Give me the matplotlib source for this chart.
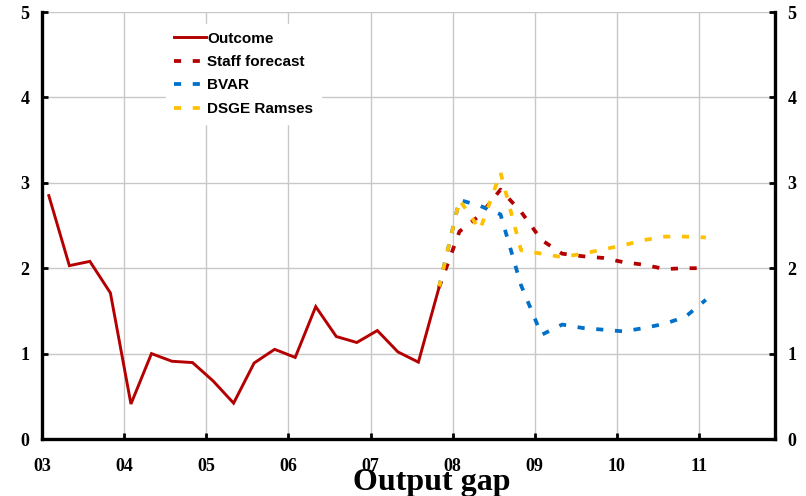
import matplotlib
matplotlib.use("Agg")
import matplotlib.pyplot as plt
import numpy as np

# ---- data ----
outcome_x = [3.083, 3.333, 3.583, 3.833, 4.083, 4.333, 4.583, 4.833, 5.083, 5.333,
             5.583, 5.833, 6.083, 6.333, 6.583, 6.833, 7.083, 7.333, 7.583, 7.833]
outcome = [2.85, 2.03, 2.08, 1.71, 0.41, 1.00, 0.91, 0.895, 0.68, 0.42,
           0.89, 1.05, 0.955, 1.55, 1.20, 1.13, 1.27, 1.02, 0.90, 1.77]

fc_x = [7.833, 8.083, 8.333, 8.583, 8.833, 9.083, 9.333, 9.583, 9.833,
        10.083, 10.333, 10.583, 10.833, 11.083]
staff = [1.77, 2.43, 2.62, 2.92, 2.66, 2.33, 2.17, 2.14, 2.12, 2.07, 2.04, 1.99, 2.00, 2.00]
bvar = [1.77, 2.80, 2.73, 2.63, 1.80, 1.22, 1.34, 1.30, 1.28, 1.26, 1.30, 1.35, 1.43, 1.63]
dsge = [1.77, 2.80, 2.45, 3.12, 2.21, 2.17, 2.13, 2.17, 2.22, 2.27, 2.33, 2.37, 2.37, 2.36]

xtick_pos = [3, 4, 5, 6, 7, 8, 9, 10, 11]
xtick_labels = ["03", "04", "05", "06", "07", "08", "09", "10", "11"]
yticks = [0, 1, 2, 3, 4, 5]
title = "Output gap"

# ---- styling ----
RED = "#B40000"
BLUE = "#0070C8"
YELLOW = "#FFC000"
GRID = "#C8C8C8"
serif = ["Liberation Serif", "DejaVu Serif"]
sans = ["Liberation Sans", "DejaVu Sans"]

fig = plt.figure(figsize=(8.06, 4.96), dpi=100)
ax = fig.add_axes([42 / 806, 1 - 439 / 496, 733 / 806, 427 / 496])

ax.set_xlim(3, 11.925)
ax.set_ylim(0, 5)

# grid
for yv in yticks[1:]:
    ax.axhline(yv, color=GRID, lw=1.0, zorder=0)
for xv in xtick_pos[1:]:
    ax.axvline(xv, color=GRID, lw=1.0, zorder=0)

dash = (1.9, 3.1)
lw_d = 2.7
ax.plot(fc_x, staff, color=RED, lw=lw_d, dashes=dash, label="Staff forecast", zorder=3)
ax.plot(fc_x, bvar, color=BLUE, lw=lw_d, dashes=dash, label="BVAR", zorder=3)
ax.plot(fc_x, dsge, color=YELLOW, lw=lw_d, dashes=dash, label="DSGE Ramses", zorder=3)
ax.plot(outcome_x, outcome, color=RED, lw=2.1, label="Outcome", zorder=4,
        solid_joinstyle="miter")

# spines
ax.spines["top"].set_visible(False)
for s in ["left", "right", "bottom"]:
    ax.spines[s].set_linewidth(2.4)
    ax.spines[s].set_color("black")

ax.set_xticks(xtick_pos)
ax.set_xticklabels(xtick_labels)
ax.set_yticks(yticks)
ax.tick_params(axis="x", direction="in", length=4, width=2.0, pad=14)
ax.tick_params(axis="y", direction="in", length=4, width=2.0, pad=9,
               left=True, right=True, labelleft=True, labelright=True)
for t in ax.xaxis.get_major_ticks():
    t.label1.set_fontfamily(serif)
    t.label1.set_fontweight("bold")
    t.label1.set_fontsize(13)
for t in ax.yaxis.get_major_ticks():
    for lab in (t.label1, t.label2):
        lab.set_fontfamily(serif)
        lab.set_fontweight("bold")
        lab.set_fontsize(13)

# legend
handles, labels = ax.get_legend_handles_labels()
order = [3, 0, 1, 2]
leg = ax.legend([handles[i] for i in order], [labels[i] for i in order],
                loc="upper left", bbox_to_anchor=(0.159, 0.99),
                frameon=True, fancybox=False, framealpha=1.0,
                edgecolor="white", facecolor="white",
                handlelength=2.1, handletextpad=0.1, labelspacing=0.62,
                borderpad=0.5,
                prop={"family": sans, "weight": "bold", "size": 11})
leg.set_zorder(5)

fig.text(432 / 806, 6 / 496, title, ha="center", va="baseline",
         fontfamily=serif, fontweight="bold", fontsize=23)

fig.savefig("out.png", dpi=100)
